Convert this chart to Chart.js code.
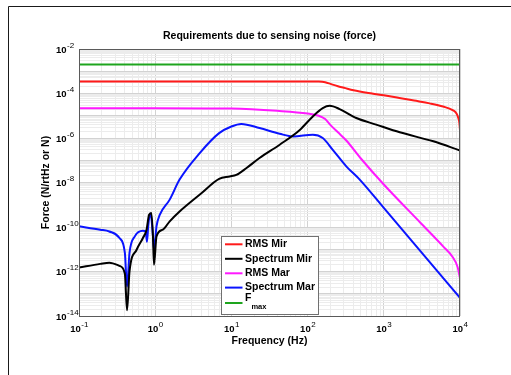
<!DOCTYPE html>
<html>
<head>
<meta charset="utf-8">
<script src="https://cdn.jsdelivr.net/npm/chart.js@4.4.1/dist/chart.umd.min.js"></script>
<style>
  html, body { margin: 0; padding: 0; background: #fff; }
  #wrap { width: 511px; height: 375px; }
</style>
</head>
<body>
<div id="wrap"><canvas id="graficaRuido" width="511" height="375"></canvas></div>
<script>
// Frequency (Hz) / force (N/rtHz or N) samples for each curve
const rmsMirFreq = [0.1, 1, 10, 100, 140, 170, 200, 250, 300, 400, 700, 1000, 1600, 2500, 4000, 6000, 8000, 9000, 9500, 9800, 10000];
const rmsMirVal = [3.5e-4, 3.5e-4, 3.5e-4, 3.5e-4, 3.45e-4, 3.2e-4, 2.7e-4, 2.1e-4, 1.8e-4, 1.4e-4, 1.0e-4, 8.3e-5, 6.3e-5, 4.8e-5, 3.6e-5, 2.6e-5, 1.8e-5, 1.26e-5, 7.9e-6, 5.0e-6, 2.2e-6];

const specMirFreq = [0.1, 0.19, 0.25, 0.34, 0.4, 0.427, 0.46, 0.57, 0.69, 0.77, 0.83, 0.89, 0.935, 0.964, 1.04, 1.26, 1.55, 2.09, 4, 6.9, 9.5, 11.6, 15.8, 23.4, 43, 79, 117, 158, 195, 263, 436, 794, 1620, 4470, 10000];
const specMirVal = [1.5e-12, 2.2e-12, 2.5e-12, 1.8e-12, 8e-13, 1.8e-14, 1e-12, 9.5e-12, 3.2e-11, 7.6e-11, 3.5e-10, 4.3e-10, 3.8e-11, 2e-12, 3.8e-11, 7.6e-11, 1.8e-10, 5e-10, 3.2e-9, 1.45e-8, 1.86e-8, 2.2e-8, 4.5e-8, 1.26e-7, 5e-7, 2.3e-6, 9.3e-6, 2.2e-5, 2.8e-5, 2e-5, 7.9e-6, 4e-6, 1.8e-6, 7.1e-7, 2.75e-7];

const rmsMarFreq = [0.1, 1, 10, 40, 100, 140, 170, 200, 250, 320, 500, 1000, 3000, 6000, 8000, 9300, 10000];
const rmsMarVal = [2.2e-5, 2.2e-5, 2.1e-5, 1.66e-5, 1.26e-5, 1.0e-5, 7.1e-6, 3.8e-6, 1.8e-6, 7.9e-7, 1.2e-7, 8.1e-9, 1.6e-10, 1.35e-11, 4.5e-12, 1.6e-12, 5e-13];

const specMarFreq = [0.1, 0.19, 0.25, 0.34, 0.4, 0.427, 0.46, 0.54, 0.69, 0.75, 0.78, 0.81, 0.847, 0.87, 0.935, 0.964, 1.04, 1.146, 1.55, 2.09, 3.84, 6.9, 10, 13.5, 23.4, 43, 65, 117, 158, 214, 324, 483, 1000, 3162, 10000];
const specMarVal = [1.07e-10, 7.6e-11, 6.3e-11, 3.2e-11, 6.8e-12, 2.1e-13, 6.8e-12, 3.8e-11, 6.8e-11, 6.3e-11, 2.2e-11, 1.1e-10, 3.5e-10, 4.0e-10, 3.8e-11, 9.5e-12, 1.07e-10, 3.5e-10, 1.7e-9, 1.35e-8, 2.1e-7, 1.66e-6, 3.3e-6, 4.3e-6, 2.8e-6, 1.55e-6, 1.17e-6, 1.4e-6, 1.0e-6, 2.95e-7, 5.2e-8, 1.35e-8, 7.2e-10, 6.9e-12, 6.5e-14];

const fmaxFreq = [0.1, 10000];
const fmaxVal = [2.0e-3, 2.0e-3];

// Decade exponents used for the tick labels
const xDecades = [-1, 0, 1, 2, 3, 4];
const yDecades = [-14, -12, -10, -8, -6, -4, -2];

const seriesNames = ["RMS Mir", "Spectrum Mir", "RMS Mar", "Spectrum Mar", "F"];
const seriesColors = ["#ff1a1a", "#000000", "#ff19ff", "#0a14ff", "#1ea51e"];

const FONT = "'Liberation Sans', Arial, Helvetica, sans-serif";

function puntos(freqs, vals) {
    return freqs.map((f, i) => ({ x: f, y: vals[i] }));
}

// grid at 1..9 x 10^n for every decade
function gridTicks(lo, hi) {
    const t = [];
    for (let e = lo; e < hi; e++) {
        for (let m = 1; m < 10; m++) t.push({ value: m * Math.pow(10, e) });
    }
    t.push({ value: Math.pow(10, hi) });
    return t;
}

function esDecada(v) {
    const l = Math.log10(v);
    return Math.abs(l - Math.round(l)) < 1e-6;
}

function potencia(ctx, x, y, exp, align) {
    ctx.font = "bold 9.5px " + FONT;
    const w10 = ctx.measureText("10").width;
    ctx.font = "8px " + FONT;
    const wExp = ctx.measureText(String(exp)).width;
    let x0 = align === "center" ? x - (w10 + wExp) / 2 : x;
    ctx.textAlign = "left";
    ctx.textBaseline = "alphabetic";
    ctx.font = "bold 9.5px " + FONT;
    ctx.fillText("10", x0, y + 3.5);
    ctx.font = "8px " + FONT;
    ctx.fillText(String(exp), x0 + w10 + 0.5, y - 1.5);
}

const decoracion = {
    id: "decoracion",
    beforeDraw(chart) {
        const ctx = chart.ctx;
        ctx.save();
        ctx.fillStyle = "#fff";
        ctx.fillRect(0, 0, chart.width, chart.height);
        ctx.strokeStyle = "#1a1a1a";
        ctx.lineWidth = 1;
        ctx.beginPath();
        ctx.moveTo(8.5, chart.height);
        ctx.lineTo(8.5, 6.5);
        ctx.lineTo(chart.width, 6.5);
        ctx.stroke();
        ctx.restore();
    },
    afterDatasetsDraw(chart) {
        const ctx = chart.ctx;
        const a = chart.chartArea;
        ctx.save();
        // plot box
        ctx.strokeStyle = "#5a5a5a";
        ctx.lineWidth = 1;
        ctx.strokeRect(a.left + 0.5, a.top + 0.5, a.right - a.left - 1, a.bottom - a.top);

        // legend
        const lx = 221.5, ly = 236.5, lw = 97, lh = 78;
        ctx.fillStyle = "#fff";
        ctx.fillRect(lx, ly, lw, lh);
        ctx.strokeStyle = "#707070";
        ctx.strokeRect(lx, ly, lw, lh);
        const filas = [244.3, 258.8, 273.3, 287.6, 303];
        ctx.fillStyle = "#000";
        ctx.textBaseline = "middle";
        ctx.textAlign = "left";
        seriesNames.forEach((nombre, i) => {
            const y = filas[i];
            ctx.strokeStyle = seriesColors[i];
            ctx.lineWidth = 2;
            ctx.beginPath();
            ctx.moveTo(225, y);
            ctx.lineTo(242.5, y);
            ctx.stroke();
            ctx.font = "bold 10.5px " + FONT;
            if (i === 4) {
                ctx.fillText(nombre, 245, y - 5);
                const wF = ctx.measureText(nombre).width;
                ctx.font = "bold 7.5px " + FONT;
                ctx.fillText("max", 245 + wF, y + 3.5);
            } else {
                ctx.fillText(nombre, 245, y);
            }
        });
        ctx.restore();
    },
    afterDraw(chart) {
        const ctx = chart.ctx;
        const a = chart.chartArea;
        const xs = chart.scales.x, ys = chart.scales.y;
        ctx.save();
        ctx.fillStyle = "#000";

        xDecades.forEach(e => potencia(ctx, xs.getPixelForValue(Math.pow(10, e)), 328.3, e, "center"));
        yDecades.forEach(e => potencia(ctx, 56, ys.getPixelForValue(Math.pow(10, e)), e, "left"));

        ctx.textAlign = "center";
        ctx.textBaseline = "middle";
        ctx.font = "bold 10.5px " + FONT;
        ctx.fillText("Requirements due to sensing noise (force)", (a.left + a.right) / 2, 36);
        ctx.fillText("Frequency (Hz)", (a.left + a.right) / 2, 341.5);

        ctx.translate(46.5, (a.top + a.bottom) / 2);
        ctx.rotate(-Math.PI / 2);
        ctx.fillText("Force (N/rtHz or N)", 0, 0);
        ctx.restore();
    }
};

function serie(idx, freqs, vals) {
    return {
        label: seriesNames[idx],
        data: puntos(freqs, vals),
        borderColor: seriesColors[idx],
        backgroundColor: seriesColors[idx],
        borderWidth: 2,
        pointRadius: 0,
        fill: false,
        cubicInterpolationMode: "monotone"
    };
}

function ejeLog(min, max, lo, hi) {
    return {
        type: "logarithmic",
        min: min,
        max: max,
        afterBuildTicks: scale => { scale.ticks = gridTicks(lo, hi); },
        ticks: { display: false },
        border: { display: false },
        grid: {
            drawTicks: false,
            lineWidth: 1,
            color: c => (c.tick && esDecada(c.tick.value)) ? "#d2d2d2" : "#ececec"
        }
    };
}

const ctx = document.getElementById("graficaRuido").getContext("2d");
new Chart(ctx, {
    type: "line",
    data: {
        datasets: [
            serie(4, fmaxFreq, fmaxVal),
            serie(0, rmsMirFreq, rmsMirVal),
            serie(1, specMirFreq, specMirVal),
            serie(2, rmsMarFreq, rmsMarVal),
            serie(3, specMarFreq, specMarVal)
        ]
    },
    options: {
        responsive: false,
        animation: false,
        devicePixelRatio: 1,
        layout: { padding: { left: 79, top: 49, right: 51, bottom: 59 } },
        plugins: {
            legend: { display: false },
            title: { display: false },
            tooltip: { enabled: false }
        },
        scales: {
            x: ejeLog(0.1, 10000, -1, 4),
            y: ejeLog(1e-14, 1e-2, -14, -2)
        }
    },
    plugins: [decoracion]
});
</script>
</body>
</html>
